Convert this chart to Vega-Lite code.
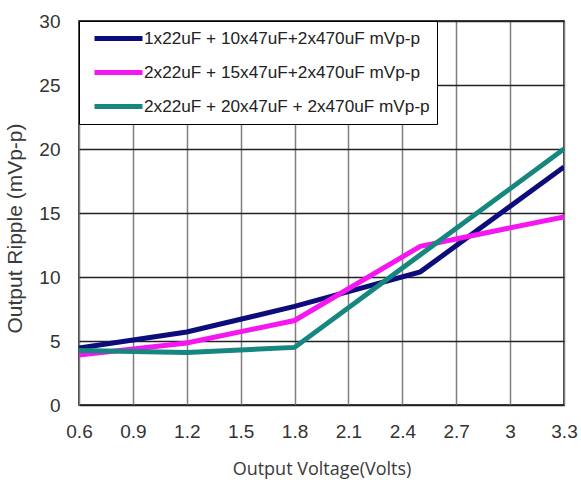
{
  "$schema": "https://vega.github.io/schema/vega-lite/v6.json",
  "width": 485,
  "height": 384,
  "autosize": {"type": "none"},
  "padding": {"left": 79, "top": 21, "right": 17, "bottom": 77},
  "background": "white",
  "config": {
    "view": {"stroke": "#000000", "strokeWidth": 1.5},
    "axis": {"domain": false, "ticks": false, "labelFont": "Liberation Sans", "labelColor": "#333333", "titleFontWeight": "normal", "titleColor": "#3a3a3a"}
  },
  "data": {
    "values": [
      {"series": "1x22uF + 10x47uF+2x470uF mVp-p", "v": 0.6, "r": 4.45},
      {"series": "1x22uF + 10x47uF+2x470uF mVp-p", "v": 1.2, "r": 5.7},
      {"series": "1x22uF + 10x47uF+2x470uF mVp-p", "v": 1.8, "r": 7.7},
      {"series": "1x22uF + 10x47uF+2x470uF mVp-p", "v": 2.5, "r": 10.4},
      {"series": "1x22uF + 10x47uF+2x470uF mVp-p", "v": 3.3, "r": 18.6},
      {"series": "2x22uF + 15x47uF+2x470uF mVp-p", "v": 0.6, "r": 3.9},
      {"series": "2x22uF + 15x47uF+2x470uF mVp-p", "v": 1.2, "r": 4.85},
      {"series": "2x22uF + 15x47uF+2x470uF mVp-p", "v": 1.8, "r": 6.6},
      {"series": "2x22uF + 15x47uF+2x470uF mVp-p", "v": 2.5, "r": 12.4},
      {"series": "2x22uF + 15x47uF+2x470uF mVp-p", "v": 3.3, "r": 14.7},
      {"series": "2x22uF + 20x47uF + 2x470uF mVp-p", "v": 0.6, "r": 4.25},
      {"series": "2x22uF + 20x47uF + 2x470uF mVp-p", "v": 1.2, "r": 4.1},
      {"series": "2x22uF + 20x47uF + 2x470uF mVp-p", "v": 1.8, "r": 4.5},
      {"series": "2x22uF + 20x47uF + 2x470uF mVp-p", "v": 3.3, "r": 20.0}
    ]
  },
  "mark": {"type": "line", "strokeWidth": 5, "clip": true},
  "encoding": {
    "x": {
      "field": "v", "type": "quantitative",
      "scale": {"domain": [0.6, 3.3], "nice": false, "zero": false},
      "axis": {
        "values": [0.6, 0.9, 1.2, 1.5, 1.8, 2.1, 2.4, 2.7, 3, 3.3],
        "format": ".1~f",
        "labelFlush": false,
        "title": "Output Voltage(Volts)",
        "titleFont": "Open Sans",
        "titleFontSize": 18,
        "labelFontSize": 19,
        "labelPadding": 17,
        "titlePadding": 19,
        "gridColor": "#7f7f7f",
        "gridWidth": 1.5,
        "gridOpacity": 1
      }
    },
    "y": {
      "field": "r", "type": "quantitative",
      "scale": {"domain": [0, 30], "nice": false},
      "axis": {
        "values": [0, 5, 10, 15, 20, 25, 30],
        "title": "Output Ripple (mVp-p)",
        "titleFont": "Liberation Sans",
        "titleFontSize": 21,
        "titleY": 207,
        "labelFontSize": 19,
        "labelPadding": 19,
        "titlePadding": 13,
        "gridColor": "#222222",
        "gridWidth": 1.5,
        "gridOpacity": 1
      }
    },
    "color": {
      "field": "series", "type": "nominal",
      "scale": {
        "domain": ["1x22uF + 10x47uF+2x470uF mVp-p", "2x22uF + 15x47uF+2x470uF mVp-p", "2x22uF + 20x47uF + 2x470uF mVp-p"],
        "range": ["#0c0c7a", "#f516f0", "#16877f"]
      },
      "legend": {
        "title": null,
        "orient": "none",
        "legendX": 0,
        "legendY": 0,
        "fillColor": "white",
        "strokeColor": "#000000",
        "padding": 7,
        "symbolType": "M-3,0H3",
        "symbolSize": 256,
        "symbolOffset": 22,
        "symbolStrokeWidth": 5,
        "labelFont": "Liberation Sans",
        "labelFontSize": 17.2,
        "labelColor": "#222222",
        "labelOffset": 15,
        "labelLimit": 400,
        "rowPadding": 13
      }
    }
  }
}
